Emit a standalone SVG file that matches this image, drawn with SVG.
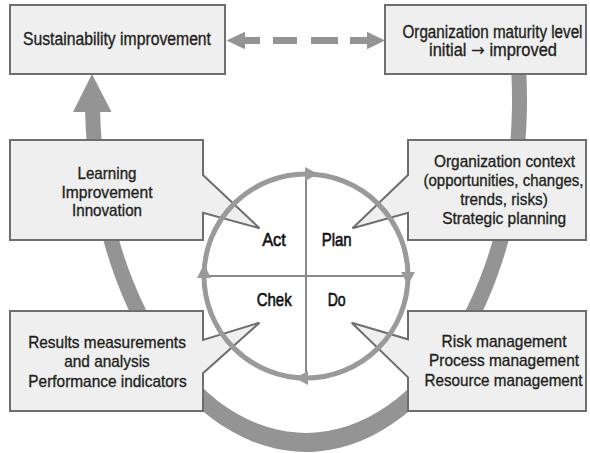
<svg xmlns="http://www.w3.org/2000/svg" width="590" height="453" viewBox="0 0 590 453">
<style>
.box{fill:#efefef;stroke:#6d6e71;stroke-width:2;stroke-linejoin:miter}
.t{font-family:"Liberation Sans Narrow","Liberation Sans",Arial,sans-serif;font-size:17px;fill:#231f20;stroke:#231f20;stroke-width:0.35;text-anchor:middle}
.big{font-size:17.5px}
.q{font-family:"Liberation Sans Narrow","Liberation Sans",Arial,sans-serif;font-size:18.5px;fill:#111;stroke:#111;stroke-width:0.6;text-anchor:middle}
.band{fill:#949494}
.ring{fill:none;stroke:#9a9a9a;stroke-width:5}
.cross{stroke:#8a8a8a;stroke-width:2}
.ah{fill:#9a9a9a}
</style>
<rect width="590" height="453" fill="#ffffff"/>
<g id="connectors">
  <path class="band" d="M526.4,74 A221,352 0 1 1 85.13,112 L100.13,112 A206,333 0 1 0 511.37,74 Z"/>
  <polygon class="band" points="92,74 73,112 111.5,112"/>
  <line x1="245" y1="40.5" x2="367" y2="40.5" stroke="#949494" stroke-width="7" stroke-dasharray="15 13 24 14 27 12 17"/>
  <polygon class="band" points="226.5,40.5 245,31.7 245,49.3"/>
  <polygon class="band" points="385,40.5 367,31.7 367,49.3"/>
</g>
<g id="node-sustainability">
  <rect class="box" x="10" y="5" width="215" height="69"/>
  <text class="t big" x="117" y="45" textLength="188" lengthAdjust="spacingAndGlyphs">Sustainability improvement</text>
</g>
<g id="node-maturity">
  <rect class="box" x="385" y="5" width="201" height="69"/>
  <text class="t big" x="492.5" y="37.5" textLength="180" lengthAdjust="spacingAndGlyphs">Organization maturity level</text>
  <text class="t big" x="493" y="55.5" textLength="128" lengthAdjust="spacingAndGlyphs">initial <tspan font-family="DejaVu Sans, sans-serif" stroke-width="0">→</tspan> improved</text>
</g>
<g id="node-learning">
  <path class="box" d="M10,140 H203 V175 L259.5,228.3 L203,212.7 V240 H10 Z"/>
  <text class="t" x="107" y="179" textLength="59" lengthAdjust="spacingAndGlyphs">Learning</text>
  <text class="t" x="107" y="197.5" textLength="91" lengthAdjust="spacingAndGlyphs">Improvement</text>
  <text class="t" x="107" y="216" textLength="70" lengthAdjust="spacingAndGlyphs">Innovation</text>
</g>
<g id="node-context">
  <path class="box" d="M586,140 H408 V175 L352.5,228.3 L408,212.7 V240 H586 Z"/>
  <text class="t" x="504.5" y="166.7" textLength="141" lengthAdjust="spacingAndGlyphs">Organization context</text>
  <text class="t" x="503.5" y="185.7" textLength="160" lengthAdjust="spacingAndGlyphs">(opportunities, changes,</text>
  <text class="t" x="504" y="205" textLength="87.6" lengthAdjust="spacingAndGlyphs">trends, risks)</text>
  <text class="t" x="504.2" y="224" textLength="124" lengthAdjust="spacingAndGlyphs">Strategic planning</text>
</g>
<g id="node-results">
  <path class="box" d="M10,311 H203 V340 L259.5,322.7 L203,373.3 V411 H10 Z"/>
  <text class="t" x="107" y="348.3" textLength="157.7" lengthAdjust="spacingAndGlyphs">Results measurements</text>
  <text class="t" x="107" y="367.3" textLength="85.7" lengthAdjust="spacingAndGlyphs">and analysis</text>
  <text class="t" x="107.5" y="386.7" textLength="158.3" lengthAdjust="spacingAndGlyphs">Performance indicators</text>
</g>
<g id="node-risk">
  <path class="box" d="M586,311 H408 V339.3 L351.7,322.7 L408,377.3 V411 H586 Z"/>
  <text class="t" x="504" y="346.7" textLength="125" lengthAdjust="spacingAndGlyphs">Risk management</text>
  <text class="t" x="504" y="366" textLength="150" lengthAdjust="spacingAndGlyphs">Process management</text>
  <text class="t" x="503.5" y="385.7" textLength="158" lengthAdjust="spacingAndGlyphs">Resource management</text>
</g>
<g id="node-pdca">
  <circle class="ring" cx="306" cy="276" r="102"/>
  <line class="cross" x1="204" y1="276" x2="408" y2="276"/>
  <line class="cross" x1="306" y1="174" x2="306" y2="378"/>
  <polygon class="ah" points="318,174 305,167 305,181"/>
  <polygon class="ah" points="408,285 401,272 415,272"/>
  <polygon class="ah" points="295,378 308,371 308,385"/>
  <polygon class="ah" points="204,264 197,278 211,278"/>
  <text class="q" x="274" y="246" textLength="23.7" lengthAdjust="spacingAndGlyphs">Act</text>
  <text class="q" x="336.7" y="246" textLength="30" lengthAdjust="spacingAndGlyphs">Plan</text>
  <text class="q" x="274.2" y="306" textLength="35" lengthAdjust="spacingAndGlyphs">Chek</text>
  <text class="q" x="336.7" y="306" textLength="18" lengthAdjust="spacingAndGlyphs">Do</text>
</g>
</svg>
